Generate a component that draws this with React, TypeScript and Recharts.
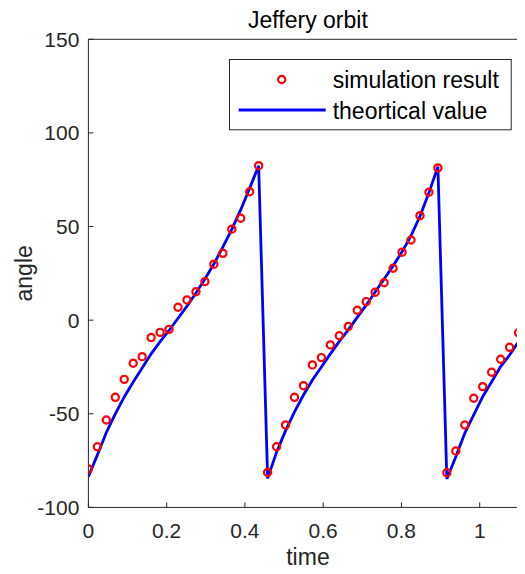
import {
  ComposedChart,
  Scatter,
  Line,
  XAxis,
  YAxis,
  Legend,
} from "recharts";

// sample times (s), one every ~0.0229
const times = [
  0, 0.0229, 0.0458, 0.0687, 0.0916, 0.1145, 0.1374, 0.1603, 0.1832, 0.2061,
  0.229, 0.2519, 0.2748, 0.2977, 0.3206, 0.3435, 0.3664, 0.3893, 0.4122, 0.4351,
  0.458, 0.4809, 0.5038, 0.5267, 0.5496, 0.5725, 0.5954, 0.6183, 0.6412, 0.6641,
  0.687, 0.7099, 0.7328, 0.7557, 0.7786, 0.8015, 0.8244, 0.8473, 0.8702, 0.8931,
  0.916, 0.9389, 0.9618, 0.9847, 1.0076, 1.0305, 1.0534, 1.0763, 1.0992, 1.1221,
];

// simulation result (deg)
const simAngle = [
  -79.5, -67.6, -53.3, -41.2, -31.6, -23.0, -19.5, -9.3, -6.5, -4.9,
  6.9, 10.8, 15.2, 20.6, 29.9, 35.7, 48.6, 54.4, 68.6, 82.5,
  -81.3, -67.6, -56.0, -41.2, -35.0, -23.9, -20.0, -13.2, -8.3, -3.4,
  5.3, 9.9, 14.9, 20.0, 27.7, 36.3, 42.8, 55.8, 68.3, 81.3,
  -81.5, -69.9, -56.0, -41.7, -35.5, -27.8, -20.9, -14.5, -6.7,
];

// theoretical value (deg)
const theoryAngle = [
  -83.6, -72, -60, -50, -41, -33, -25.5, -18, -11.5, -5.5,
  1, 7.5, 14.5, 22, 30, 39, 48.5, 59, 70.5, 82.5,
  -84.5, -70.5, -59, -49, -40, -32, -25, -18, -11.3, -5.2,
  1.5, 8, 15, 22, 29, 36.5, 45, 55.5, 68, 82,
  -84.8, -72.9, -60.4, -50.6, -40.9, -32.9, -24.8, -18.6, -11.5, -4,
];

const xTicks = [0, 0.2, 0.4, 0.6, 0.8, 1];
const yTicks = [-100, -50, 0, 50, 100, 150];

const simData = simAngle.map((a, i) => ({ t: times[i], angle: a }));
const theoryData = theoryAngle.map((a, i) => ({ t: times[i], angle: a }));

const FONT = "'Liberation Sans', Arial, Helvetica, sans-serif";
const AXIS = "#262626";
const tickStyle = { fontSize: 21, fill: AXIS, fontFamily: FONT };

const TitleLabel = ({ viewBox }: any) => (
  <text
    x={viewBox.x + viewBox.width / 2}
    y={20.3}
    textAnchor="middle"
    fontSize={23}
    fontFamily={FONT}
    fill="#000"
  >
    Jeffery orbit
  </text>
);

const TimeLabel = ({ viewBox }: any) => (
  <text
    x={viewBox.x + viewBox.width / 2}
    y={viewBox.y + 58}
    textAnchor="middle"
    fontSize={23}
    fontFamily={FONT}
    fill={AXIS}
  >
    time
  </text>
);

const AngleLabel = ({ viewBox }: any) => {
  const cx = 24;
  const cy = viewBox.y + viewBox.height / 2;
  return (
    <text
      x={cx}
      y={cy}
      transform={`rotate(-90 ${cx} ${cy})`}
      textAnchor="middle"
      fontSize={23}
      fontFamily={FONT}
      fill={AXIS}
    >
      angle
    </text>
  );
};

const Ring = (props: any) => (
  <circle cx={props.cx} cy={props.cy} r={3.6} fill="none" stroke="#ff0000" strokeWidth={2.2} />
);

const LegendBox = () => (
  <svg width={284} height={73} style={{ display: "block" }}>
    <rect x={0.5} y={0.5} width={281.7} height={70.3} fill="#fff" stroke={AXIS} strokeWidth={1} />
    <circle cx={52.7} cy={20.5} r={3.6} fill="none" stroke="#ff0000" strokeWidth={2.2} />
    <line x1={9.7} x2={96.7} y1={51} y2={51} stroke="#0000ff" strokeWidth={2.8} />
    <text x={103.7} y={29.3} fontSize={23} fontFamily={FONT} fill="#000">
      simulation result
    </text>
    <text x={103.7} y={60} fontSize={23} fontFamily={FONT} fill="#000">
      theortical value
    </text>
  </svg>
);

export default function App() {
  return (
    <div
      style={{
        width: 517,
        height: 566,
        marginBottom: -8,
        overflow: "hidden",
        background: "#fff",
      }}
    >
      <ComposedChart
        width={540}
        height={566}
        margin={{ top: 0, right: 0, bottom: 26.6, left: 0.4 }}
      >
        <XAxis
          xAxisId="bottom"
          dataKey="t"
          type="number"
          domain={[0, 1.1221]}
          ticks={xTicks}
          allowDataOverflow
          height={40}
          stroke={AXIS}
          tickSize={-5}
          tickMargin={20.3}
          tick={tickStyle}
          label={<TimeLabel />}
        />
        <XAxis
          xAxisId="top"
          orientation="top"
          type="number"
          domain={[0, 1.1221]}
          ticks={xTicks}
          allowDataOverflow
          height={31.3}
          stroke={AXIS}
          tickSize={-5}
          tick={false}
          label={<TitleLabel />}
        />
        <YAxis
          yAxisId="left"
          dataKey="angle"
          type="number"
          domain={[-100, 150]}
          ticks={yTicks}
          allowDataOverflow
          width={80}
          stroke={AXIS}
          tickSize={-5}
          tickMargin={14}
          tick={tickStyle}
          label={<AngleLabel />}
        />
        <YAxis
          yAxisId="right"
          orientation="right"
          type="number"
          domain={[-100, 150]}
          ticks={yTicks}
          allowDataOverflow
          width={20.5}
          stroke={AXIS}
          tickSize={-5}
          tick={false}
        />
        <Legend
          layout="vertical"
          align="center"
          verticalAlign="middle"
          wrapperStyle={{ left: 221.3, top: 51, width: 284, height: 73 }}
          content={() => <LegendBox />}
        />
        <Scatter
          name="simulation result"
          data={simData}
          xAxisId="bottom"
          yAxisId="left"
          dataKey="angle"
          shape={<Ring />}
          isAnimationActive={false}
        />
        <Line
          name="theortical value"
          data={theoryData}
          xAxisId="bottom"
          yAxisId="left"
          dataKey="angle"
          type="linear"
          stroke="#0000ff"
          strokeWidth={2.8}
          dot={false}
          activeDot={false}
          isAnimationActive={false}
        />
      </ComposedChart>
    </div>
  );
}
